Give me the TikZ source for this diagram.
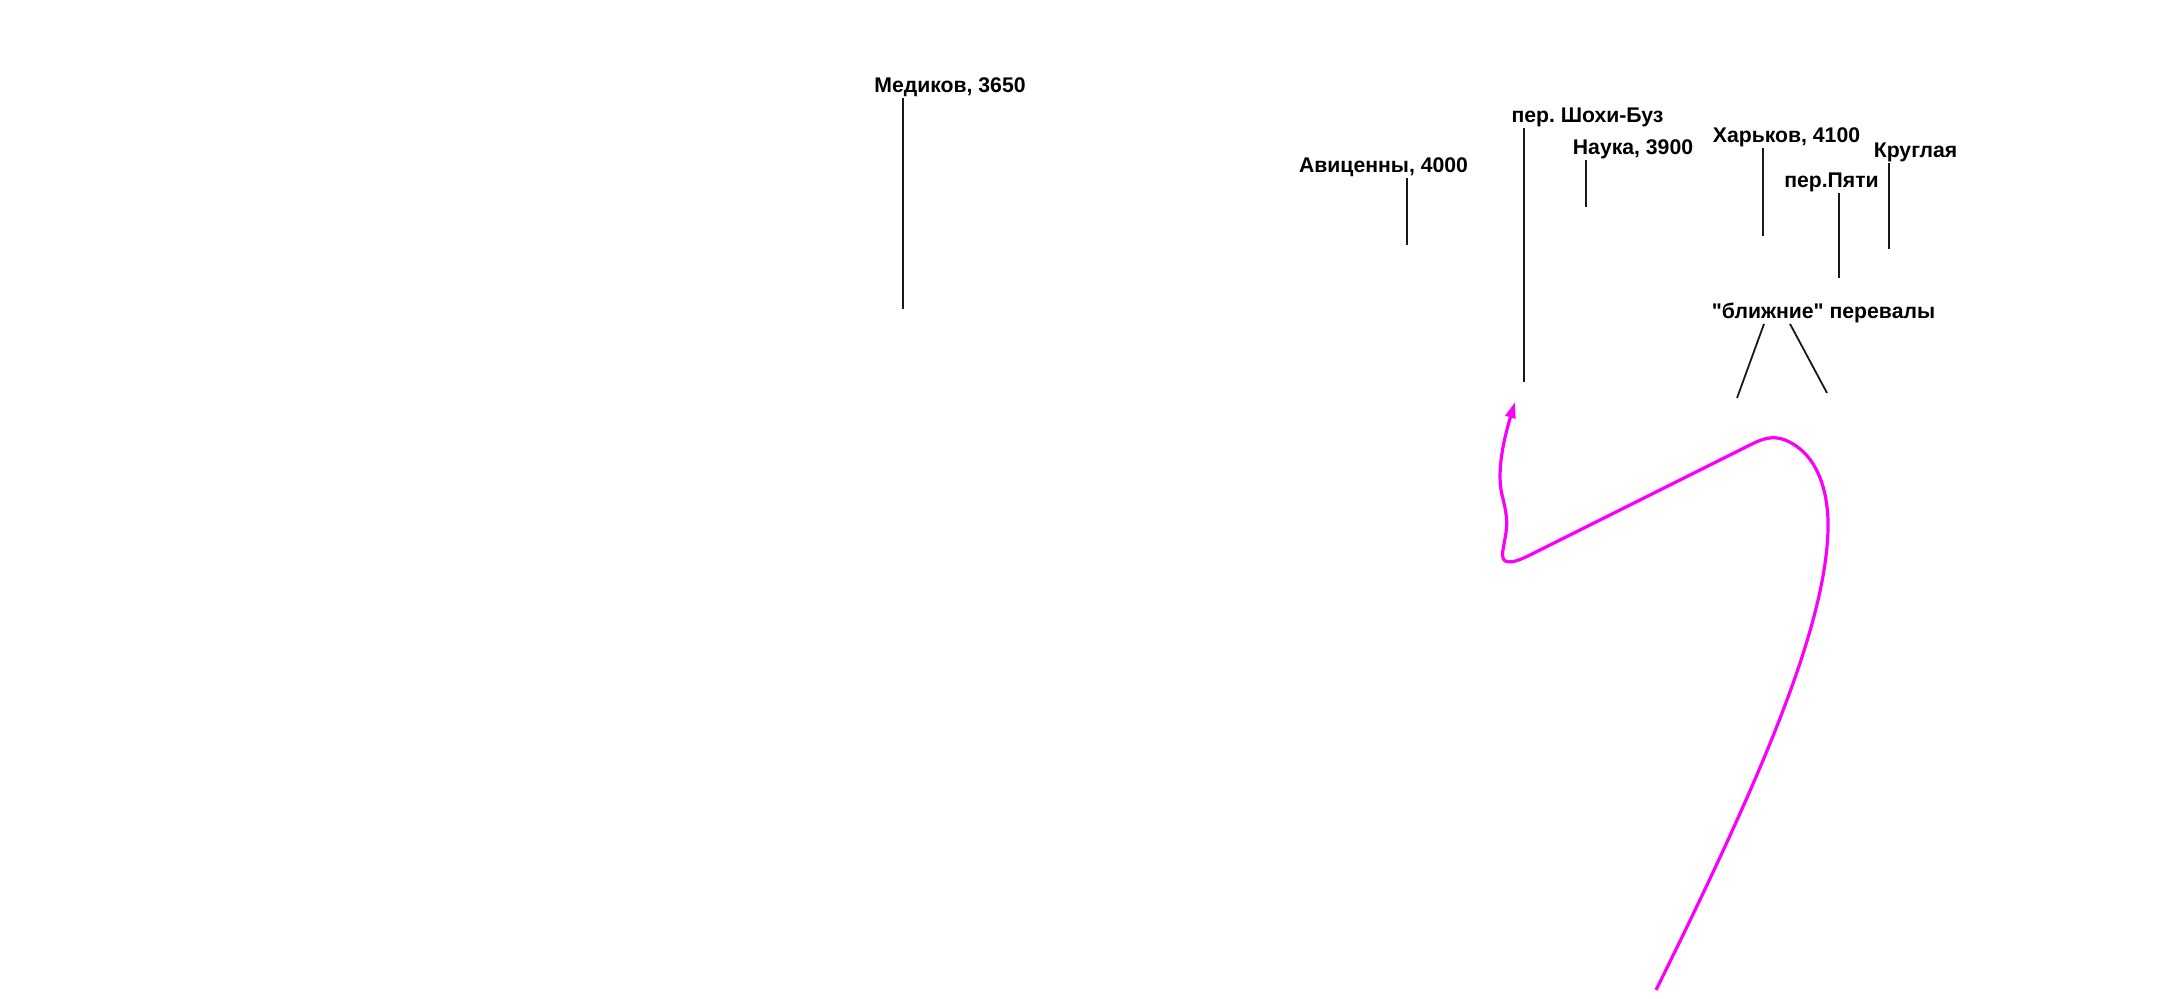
\documentclass[tikz,border=0pt]{standalone}
\usepackage{fontspec}
\setmainfont{Liberation Sans}
\usetikzlibrary{calc}
\usetikzlibrary{arrows.meta}

\definecolor{routecolor}{RGB}{250,0,250}

\begin{document}
\frenchspacing
\begin{tikzpicture}[x=0.5pt, y=-0.5pt,
      pass/.style={font=\fontsize{10.6}{12}\selectfont\bfseries, inner sep=2.5pt, text height=7.5pt, text depth=0pt},
      tick/.style={draw=black!90, line width=0.9pt},
      route/.style={draw=routecolor, line width=1.6pt, -{Triangle[length=8pt, width=5pt]}}]
      \useasboundingbox (0,0) rectangle (2172,999);
      \node[pass] (medikov) at (950,85) {Медиков, 3650};
      \node[pass] (avicenna) at (1383.5,165) {Авиценны, 4000};
      \node[pass] (shokhi) at (1587.5,115) {пер.\ Шохи-Буз};
      \node[pass] (nauka) at (1633,147) {Наука, 3900};
      \node[pass] (kharkov) at (1786.5,135) {Харьков, 4100};
      \node[pass] (kruglaya) at (1915.5,150) {Круглая};
      \node[pass] (pyati) at (1831.5,180) {пер.Пяти};
      \node[pass] (blizhnie) at (1823.5,311) {\textquotedbl ближние\textquotedbl{} перевалы};
      \coordinate (medikov foot) at (903,309);
      \coordinate (avicenna foot) at (1407,245);
      \coordinate (shokhi foot) at (1524,382);
      \coordinate (nauka foot) at (1586,207);
      \coordinate (kharkov foot) at (1763,236);
      \coordinate (kruglaya foot) at (1889,249);
      \coordinate (pyati foot) at (1839,278);
      \coordinate (blizhnie left) at (1737,398);
      \coordinate (blizhnie right) at (1827,393);
      \draw[tick] (medikov.south -| medikov foot) -- (medikov foot);
      \draw[tick] (avicenna.south -| avicenna foot) -- (avicenna foot);
      \draw[tick] (shokhi.south -| shokhi foot) -- (shokhi foot);
      \draw[tick] (nauka.south -| nauka foot) -- (nauka foot);
      \draw[tick] (kharkov.south -| kharkov foot) -- (kharkov foot);
      \draw[tick] (kruglaya.south -| kruglaya foot) -- (kruglaya foot);
      \draw[tick] (pyati.south -| pyati foot) -- (pyati foot);
      \draw[tick] ([xshift=-29.75pt]blizhnie.south) -- (blizhnie left);
      \draw[tick] ([xshift=-16.75pt]blizhnie.south) -- (blizhnie right);
      \coordinate (route start) at (1656,990);
      \coordinate (route end) at (1515,402);
      \draw[route] (route start) .. controls (1760,780) and (1830,620) .. (1828,520)
            .. controls (1826,470) and (1805,448) .. (1785,440)
            .. controls (1772,435) and (1762,439) .. (1750,445) -- (1530,555)
            .. controls (1510,565) and (1500,565) .. (1503,550)
            .. controls (1506,530) and (1510,525) .. (1502,495)
            .. controls (1496,470) and (1505,435) .. (route end);
    \end{tikzpicture}
\end{document}
